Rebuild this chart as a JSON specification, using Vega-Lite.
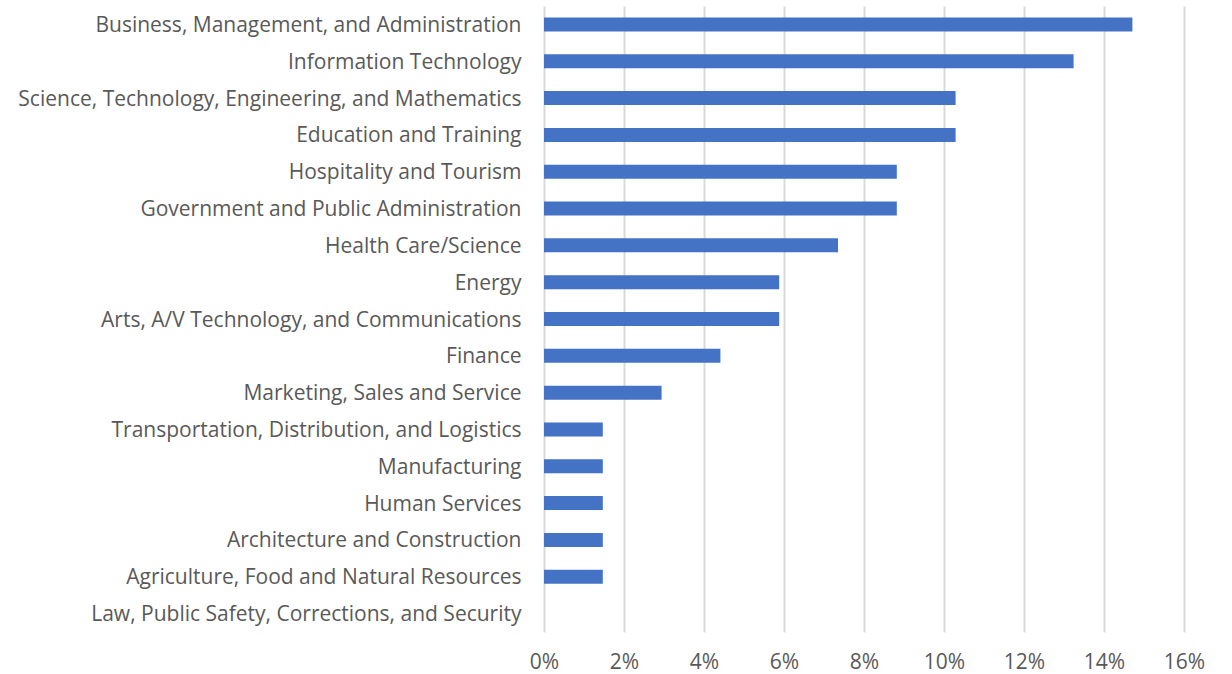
{
  "$schema": "https://vega.github.io/schema/vega-lite/v6.json",
  "width": 640,
  "height": 626,
  "autosize": {"type": "none"},
  "padding": {"left": 544, "top": 6, "right": 48, "bottom": 42},
  "background": "white",
  "data": {
    "values": [
      {"cluster": "Business, Management, and Administration", "share": 0.1471},
      {"cluster": "Information Technology", "share": 0.1324},
      {"cluster": "Science, Technology, Engineering, and Mathematics", "share": 0.1029},
      {"cluster": "Education and Training", "share": 0.1029},
      {"cluster": "Hospitality and Tourism", "share": 0.0882},
      {"cluster": "Government and Public Administration", "share": 0.0882},
      {"cluster": "Health Care/Science", "share": 0.0735},
      {"cluster": "Energy", "share": 0.0588},
      {"cluster": "Arts, A/V Technology, and Communications", "share": 0.0588},
      {"cluster": "Finance", "share": 0.0441},
      {"cluster": "Marketing, Sales and Service", "share": 0.0294},
      {"cluster": "Transportation, Distribution, and Logistics", "share": 0.0147},
      {"cluster": "Manufacturing", "share": 0.0147},
      {"cluster": "Human Services", "share": 0.0147},
      {"cluster": "Architecture and Construction", "share": 0.0147},
      {"cluster": "Agriculture, Food and Natural Resources", "share": 0.0147},
      {"cluster": "Law, Public Safety, Corrections, and Security", "share": 0}
    ]
  },
  "mark": {"type": "bar", "color": "#4472C4"},
  "encoding": {
    "y": {
      "field": "cluster",
      "type": "nominal",
      "sort": null,
      "scale": {"paddingInner": 0.62, "paddingOuter": 0.31},
      "axis": {
        "title": null,
        "domain": false,
        "ticks": false,
        "labelFont": "Open Sans",
        "labelFontSize": 21,
        "labelColor": "#595959",
        "labelPadding": 23,
        "labelOffset": 1.5,
        "labelLimit": 600
      }
    },
    "x": {
      "field": "share",
      "type": "quantitative",
      "scale": {"domain": [0, 0.16], "nice": false},
      "axis": {
        "title": null,
        "format": ".0%",
        "values": [0, 0.02, 0.04, 0.06, 0.08, 0.1, 0.12, 0.14, 0.16],
        "domain": false,
        "ticks": false,
        "grid": true,
        "gridColor": "#D9D9D9",
        "gridWidth": 2,
        "labelFlush": false,
        "labelFont": "Open Sans",
        "labelFontSize": 21,
        "labelColor": "#595959",
        "labelBaseline": "alphabetic",
        "labelPadding": 36
      }
    }
  },
  "config": {"view": {"stroke": null}}
}
